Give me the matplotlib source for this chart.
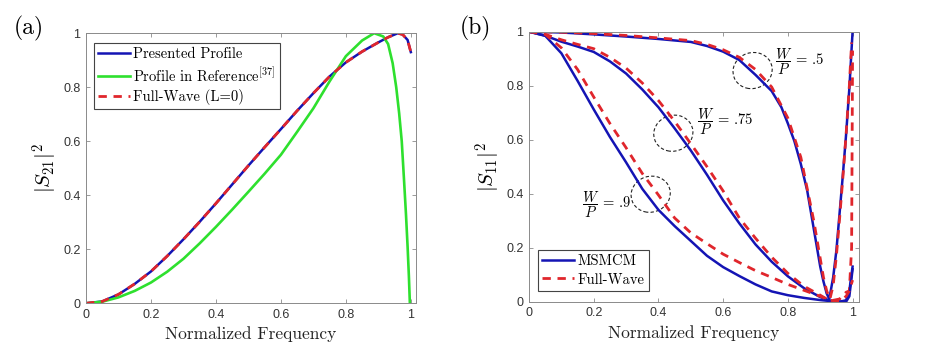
import matplotlib
matplotlib.use("Agg")
import matplotlib.pyplot as plt
from matplotlib.patches import Ellipse

plt.rcParams['mathtext.fontset'] = 'cm'
plt.rcParams['axes.unicode_minus'] = False

# ---- panel (a): |S21|^2 ----
xa_pres = [0, 0.05, 0.1, 0.15, 0.2, 0.25, 0.3, 0.35, 0.4, 0.45, 0.5, 0.55, 0.6, 0.65,
           0.7, 0.75, 0.8, 0.85, 0.9, 0.93, 0.96, 0.975, 0.99, 1.0]
ya_pres = [0, 0.007, 0.033, 0.072, 0.118, 0.175, 0.237, 0.302, 0.37, 0.44, 0.51, 0.578,
           0.645, 0.713, 0.778, 0.84, 0.892, 0.932, 0.966, 0.985, 1.0, 0.995, 0.975, 0.93]

xa_ref = [0, 0.05, 0.1, 0.15, 0.2, 0.25, 0.3, 0.35, 0.4, 0.45, 0.5, 0.55, 0.6, 0.65, 0.7,
          0.75, 0.8, 0.85, 0.887, 0.915, 0.93, 0.944, 0.955, 0.964, 0.972, 0.979, 0.985,
          0.99, 0.994, 0.997]
ya_ref = [0, 0.006, 0.022, 0.046, 0.077, 0.117, 0.165, 0.222, 0.283, 0.347, 0.413, 0.48,
          0.55, 0.635, 0.722, 0.822, 0.915, 0.973, 1.0, 0.988, 0.96, 0.889, 0.8, 0.704,
          0.6, 0.457, 0.33, 0.21, 0.1, 0.0]

xa_fw = [0, 0.05, 0.1, 0.15, 0.2, 0.25, 0.3, 0.35, 0.4, 0.45, 0.5, 0.55, 0.6, 0.65,
         0.7, 0.75, 0.8, 0.85, 0.9, 0.93, 0.96, 0.975, 0.99, 1.0]
ya_fw = [0, 0.007, 0.033, 0.072, 0.118, 0.175, 0.237, 0.302, 0.37, 0.44, 0.51, 0.578,
         0.645, 0.713, 0.778, 0.84, 0.892, 0.932, 0.966, 0.985, 1.0, 0.995, 0.975, 0.93]

# ---- panel (b): |S11|^2 ----
xb_50 = [0, 0.1, 0.2, 0.3, 0.4, 0.5, 0.55, 0.6, 0.65, 0.7, 0.75, 0.78, 0.8, 0.82, 0.84,
         0.86, 0.88, 0.9, 0.91, 0.92, 0.928, 0.94, 0.95, 0.96, 0.97, 0.98, 0.99, 1.0]
yb_50_ms = [1.0, 0.997, 0.99, 0.982, 0.973, 0.962, 0.947, 0.926, 0.895, 0.84, 0.78, 0.72,
            0.66, 0.595, 0.51, 0.41, 0.27, 0.13, 0.075, 0.03, 0.01, 0.09, 0.19, 0.33,
            0.47, 0.62, 0.79, 1.0]
xb_50_fw = [0, 0.1, 0.2, 0.3, 0.4, 0.5, 0.55, 0.6, 0.65, 0.7, 0.75, 0.8, 0.84, 0.88, 0.9,
            0.91, 0.92, 0.93, 0.94, 0.95, 0.96, 0.97, 0.98, 0.99, 0.997]
yb_50_fw = [1.0, 0.998, 0.993, 0.986, 0.977, 0.967, 0.953, 0.933, 0.905, 0.86, 0.795,
            0.68, 0.535, 0.3, 0.16, 0.09, 0.04, 0.01, 0.06, 0.17, 0.31, 0.46, 0.62, 0.8, 0.96]

xb_75 = [0, 0.05, 0.1, 0.15, 0.2, 0.25, 0.3, 0.35, 0.4, 0.45, 0.5, 0.55, 0.6, 0.65, 0.7,
         0.75, 0.8, 0.85, 0.9, 0.93, 0.96, 0.98, 0.99, 1.0]
yb_75_ms = [1.0, 0.985, 0.963, 0.945, 0.925, 0.89, 0.845, 0.786, 0.72, 0.642, 0.56, 0.47,
            0.375, 0.29, 0.212, 0.148, 0.094, 0.05, 0.017, 0.004, 0.0, 0.005, 0.04, 0.13]
xb_75_fw = [0, 0.05, 0.1, 0.15, 0.2, 0.25, 0.3, 0.35, 0.4, 0.45, 0.5, 0.55, 0.6, 0.65, 0.7,
            0.75, 0.8, 0.85, 0.9, 0.92, 0.94, 0.96, 0.98, 0.99, 0.997, 1.0]
yb_75_fw = [1.0, 0.99, 0.97, 0.953, 0.937, 0.905, 0.865, 0.81, 0.745, 0.668, 0.585, 0.5,
            0.41, 0.31, 0.235, 0.165, 0.105, 0.057, 0.024, 0.01, 0.005, 0.01, 0.035, 0.04,
            0.2, 0.93]

xb_90 = [0, 0.05, 0.1, 0.15, 0.2, 0.25, 0.3, 0.35, 0.4, 0.45, 0.5, 0.55, 0.6, 0.65, 0.7,
         0.75, 0.8, 0.85, 0.9, 0.95, 0.98, 0.99, 1.0]
yb_90_ms = [1.0, 0.985, 0.92, 0.818, 0.712, 0.61, 0.516, 0.418, 0.34, 0.28, 0.225, 0.17,
            0.128, 0.095, 0.064, 0.038, 0.024, 0.014, 0.006, 0.0, 0.0, 0.02, 0.12]
xb_90_fw = [0, 0.05, 0.1, 0.15, 0.2, 0.25, 0.3, 0.35, 0.4, 0.45, 0.5, 0.55, 0.6, 0.65, 0.7,
            0.75, 0.8, 0.85, 0.9, 0.93, 0.96, 0.98, 0.99, 1.0]
yb_90_fw = [1.0, 0.99, 0.94, 0.86, 0.758, 0.66, 0.57, 0.475, 0.395, 0.31, 0.255, 0.215,
            0.176, 0.145, 0.115, 0.09, 0.064, 0.042, 0.02, 0.005, 0.002, 0.02, 0.04, 0.08]

ticks = [0, 0.2, 0.4, 0.6, 0.8, 1]
tick_labels = ['0', '0.2', '0.4', '0.6', '0.8', '1']
wp_labels = ['.5', '.75', '.9']

blue = '#1414b4'
red = '#e0262c'
green = '#2ee02e'
serif = 'cmr10'

fig = plt.figure(figsize=(9.27, 3.54), dpi=100)
ax1 = fig.add_axes([0.0928, 0.1432, 0.356, 0.763])
ax2 = fig.add_axes([0.5707, 0.1478, 0.356, 0.7627])


def style_axes(ax):
    ax.set_xlim(0, 1.016)
    ax.set_ylim(0, 1)
    ax.set_xticks(ticks)
    ax.set_xticklabels(tick_labels, family='Liberation Sans')
    ax.set_yticks(ticks)
    ax.set_yticklabels(tick_labels, family='Liberation Sans')
    ax.tick_params(direction='in', top=True, right=True, length=3, width=0.6,
                   colors='#8a8a8a', labelcolor='#333333', labelsize=9, pad=4)
    for s in ax.spines.values():
        s.set_color('#8a8a8a')
        s.set_linewidth(0.7)
    ax.set_xlabel('Normalized Frequency', family=serif, fontsize=12.5,
                  color='#222222', labelpad=4)


def style_legend(leg):
    leg.get_frame().set_edgecolor('#444444')
    leg.get_frame().set_linewidth(0.8)
    for t in leg.get_texts():
        t.set_family(serif)


# panel (a)
ax1.plot(xa_pres, ya_pres, color=blue, lw=1.8, label='Presented Profile')
ax1.plot(xa_ref, ya_ref, color=green, lw=1.9, label=r'Profile in Reference$^{[37]}$')
ax1.plot(xa_fw, ya_fw, color=red, lw=2.0, dashes=(3, 2.4), label='Full-Wave (L=0)')
style_axes(ax1)
ax1.set_ylabel(r'$|S_{21}|^2$', fontsize=15, labelpad=2)
leg = ax1.legend(loc='upper left', bbox_to_anchor=(0.024, 0.963), fontsize=10.5,
                 handlelength=2.2, handletextpad=0.2, labelspacing=0.3,
                 borderpad=0.3, borderaxespad=0, fancybox=False, framealpha=1)
style_legend(leg)

# panel (b)
ax2.plot(xb_50, yb_50_ms, color=blue, lw=1.8, label='MSMCM')
ax2.plot(xb_50_fw, yb_50_fw, color=red, lw=2.0, dashes=(3, 2.4), label='Full-Wave')
ax2.plot(xb_75, yb_75_ms, color=blue, lw=1.8)
ax2.plot(xb_75_fw, yb_75_fw, color=red, lw=2.0, dashes=(3, 2.4))
ax2.plot(xb_90, yb_90_ms, color=blue, lw=1.8)
ax2.plot(xb_90_fw, yb_90_fw, color=red, lw=2.0, dashes=(3, 2.4))
style_axes(ax2)
ax2.set_xlim(0, 1.02)
ax2.set_ylabel(r'$|S_{11}|^2$', fontsize=15, labelpad=2)
leg2 = ax2.legend(loc='lower left', bbox_to_anchor=(0.027, 0.04), fontsize=10.5,
                  handlelength=2.2, handletextpad=0.2, labelspacing=0.3,
                  borderpad=0.3, borderaxespad=0, fancybox=False, framealpha=1)
style_legend(leg2)

# dashed ellipses and W/P labels
for cx, cy in [(0.691, 0.856), (0.446, 0.624), (0.376, 0.398)]:
    ax2.add_patch(Ellipse((cx, cy), 0.12, 0.135, angle=-15, fill=False, ls=(0, (3, 2)),
                          lw=0.8, color='#222222'))
for (tx, ty), lab in zip([(0.76, 0.888), (0.518, 0.668), (0.165, 0.358)], wp_labels):
    ax2.text(tx, ty, r'$\dfrac{W}{P}$' + ' = ' + lab, family=serif, fontsize=10.5,
             va='center', ha='left')

fig.text(0.015, 0.955, '(a)', family=serif, fontsize=17, va='top')
fig.text(0.496, 0.955, '(b)', family=serif, fontsize=17, va='top')

fig.savefig('out.png', dpi=100)
